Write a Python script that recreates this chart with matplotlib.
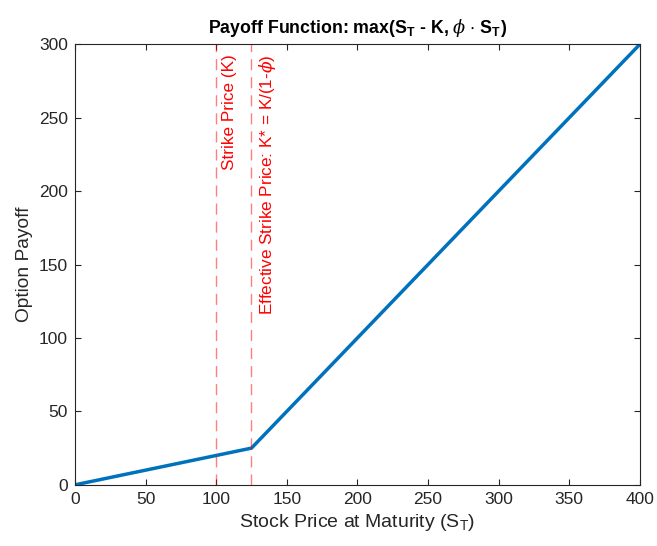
import matplotlib
matplotlib.use('Agg')
import matplotlib.pyplot as plt

# Kink points of the payoff
stock_price = [0, 125, 400]
payoff = [0, 25, 300]
strike = 100
eff_strike = 125

plt.rcParams['font.family'] = ['Liberation Sans', 'DejaVu Sans']
plt.rcParams['mathtext.fontset'] = 'custom'
plt.rcParams['mathtext.rm'] = 'Liberation Sans'
plt.rcParams['mathtext.it'] = 'DejaVu Serif:italic'
plt.rcParams['mathtext.bf'] = 'Liberation Sans:bold'
plt.rcParams['mathtext.default'] = 'regular'

fig = plt.figure(figsize=(6.57, 5.46), dpi=100)
ax = fig.add_axes([0.114, 0.112, 0.860, 0.807])

ax.plot(stock_price, payoff, color=(0, 0.447, 0.741), linewidth=2.5)
ax.axvline(strike, color='red', linestyle=(0, (8, 5)), linewidth=1, alpha=0.5)
ax.axvline(eff_strike, color='red', linestyle=(0, (8, 5)), linewidth=1, alpha=0.5)
ax.text(strike + 4, 293, 'Strike Price (K)', rotation=90, color='red',
        ha='left', va='top', fontsize=12.3)
ax.text(eff_strike + 4, 293, r'Effective Strike Price: K* = K/(1-$\mathit{\phi}$)',
        rotation=90, color='red', ha='left', va='top', fontsize=12.3)

ax.set_xlim(0, 400)
ax.set_ylim(0, 300)
ax.set_xticks(range(0, 401, 50))
ax.set_yticks(range(0, 301, 50))
ax.tick_params(direction='in', top=True, right=True, labelsize=12.5,
               colors='#262626', length=4, pad=5)
for s in ax.spines.values():
    s.set_color('#262626')
    s.set_linewidth(0.8)

ax.set_xlabel('Stock Price at Maturity (S$_T$)', fontsize=14, color='#262626', labelpad=4)
ax.set_ylabel('Option Payoff', fontsize=13.8, color='#262626', labelpad=4)
ax.set_title(r'Payoff Function: max(S$\mathbf{_T}$ - K, $\mathit{\phi}$ $\cdot$ S$\mathbf{_T}$)',
             fontsize=12.8, fontweight='bold', pad=8)

fig.savefig('out.png', dpi=100)
